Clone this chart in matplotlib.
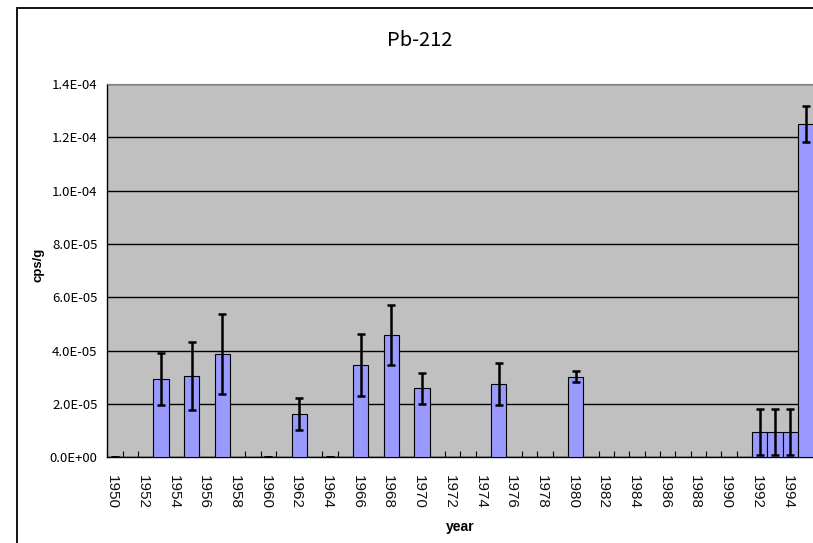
import numpy as np
import matplotlib
matplotlib.use("Agg")
import matplotlib.pyplot as plt
import matplotlib.transforms as mtransforms
from matplotlib.patches import Rectangle

# year axis runs 1950..1995, one category per year
years = list(range(1950, 1996))

# measured samples (cps/g) and their one-sigma errors
sample_year = [1950, 1953, 1955, 1957, 1960, 1962, 1964, 1966,
               1968, 1970, 1975, 1980, 1992, 1993, 1994, 1995]
cps = [0.0, 2.95e-5, 3.05e-5, 3.88e-5, 0.0, 1.61e-5, 0.0, 3.46e-5,
       4.58e-5, 2.59e-5, 2.75e-5, 3.02e-5, 0.95e-5, 0.95e-5, 0.95e-5, 12.5e-5]
cps_err = [0.0, 0.97e-5, 1.28e-5, 1.5e-5, 0.0, 0.6e-5, 0.0, 1.16e-5,
           1.12e-5, 0.59e-5, 0.77e-5, 0.21e-5, 0.88e-5, 0.88e-5, 0.88e-5, 0.69e-5]

yticks = [0, 2e-5, 4e-5, 6e-5, 8e-5, 1.0e-4, 1.2e-4, 1.4e-4]

W, H = 813, 543
fig = plt.figure(figsize=(W / 100, H / 100), dpi=100)

# outer chart frame
fig.patches.append(Rectangle((17 / W, -0.1), 1.2, 1 - 8 / H + 0.1,
                             transform=fig.transFigure, fill=False,
                             edgecolor="black", linewidth=1.3))

ax = fig.add_axes([107.3 / W, (H - 457.3) / H, (813.5 - 107.3) / W, (457.3 - 84) / H])
ax.set_facecolor("#C0C0C0")

idx = [years.index(y) for y in sample_year]
ax.bar(idx, cps, width=1.0, color="#9999FF", edgecolor="black", linewidth=0.8, zorder=3)
ax.errorbar(idx, cps, yerr=cps_err, fmt="none", ecolor="black",
            elinewidth=1.8, capsize=3.2, capthick=1.8, zorder=4)

ax.set_xlim(-0.5, len(years) - 0.5)
ax.set_ylim(0, 1.4e-4)

# horizontal gridlines
ax.set_yticks(yticks)
ax.set_yticklabels(["%.1E" % v for v in yticks], family="Noto Sans CJK JP", fontsize=9.5)
ax.yaxis.grid(True, color="black", linewidth=1.0, zorder=1)
ax.set_axisbelow(True)
ax.tick_params(axis="y", length=0, pad=7)

# tick marks on category boundaries, labels on every other year
ax.set_xticks(np.arange(-0.5, len(years), 1.0))
ax.set_xticklabels([])
ax.tick_params(axis="x", which="major", direction="in", length=4, width=0.8, color="black")
ax.set_xticks(range(0, len(years), 2), minor=True)
ax.set_xticklabels([str(y) for y in years[::2]], minor=True, rotation=270,
                   family="Liberation Sans", fontsize=11, color="#111111")
ax.tick_params(axis="x", which="minor", length=0, pad=13)
shift = mtransforms.ScaledTranslation(-3 / 100, 0, fig.dpi_scale_trans)
for lab in ax.get_xticklabels(minor=True):
    lab.set_transform(lab.get_transform() + shift)

for s in ["top", "right"]:
    ax.spines[s].set_color("#808080")
for s in ["left", "bottom"]:
    ax.spines[s].set_color("black")
    ax.spines[s].set_linewidth(1.0)

fig.text(420 / W, 1 - 40 / H, "Pb-212", ha="center", va="center",
         family="Noto Sans CJK JP", fontsize=14.5)
fig.text(38 / W, 1 - 265 / H, "cps/g", ha="center", va="center", rotation=90,
         family="Liberation Sans", fontweight="bold", fontsize=9.5)
fig.text(460 / W, 1 - 527 / H, "year", ha="center", va="center",
         family="Liberation Sans", fontweight="bold", fontsize=10)

fig.savefig("out.png", dpi=100)
